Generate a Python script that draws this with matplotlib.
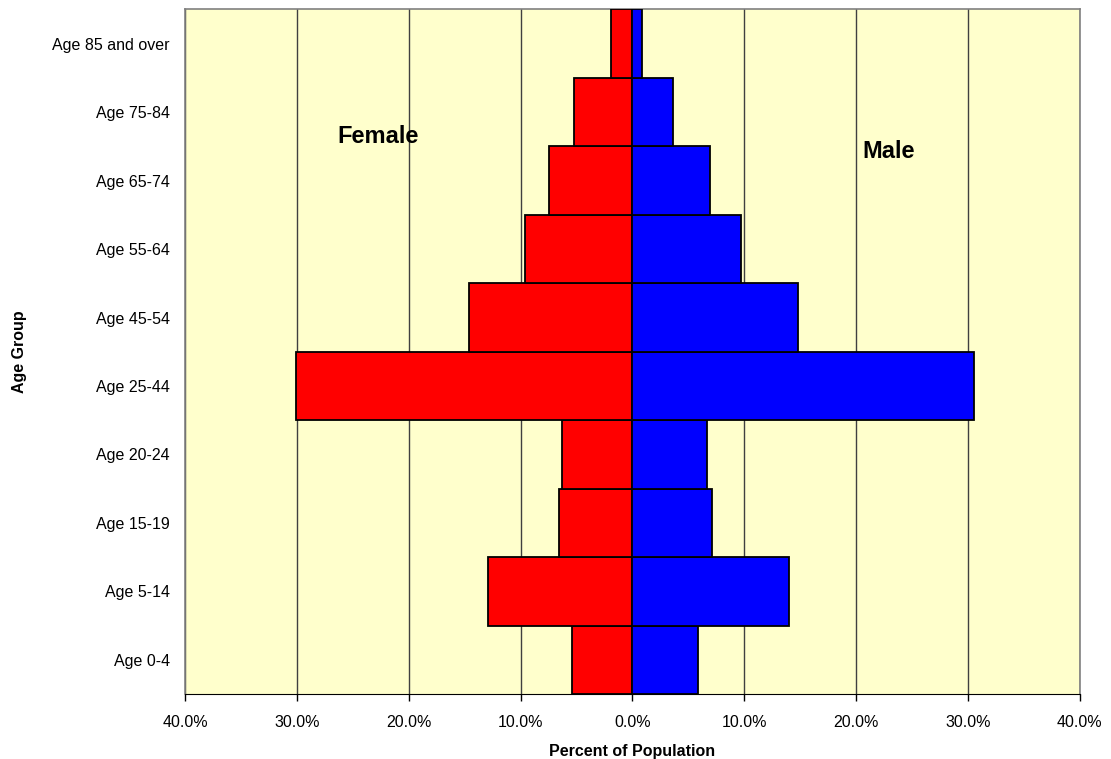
import numpy as np
import matplotlib.pyplot as plt
from matplotlib.ticker import FuncFormatter

plt.rcParams['font.family'] = ['Liberation Sans', 'DejaVu Sans']

age_groups = ['Age 0-4', 'Age 5-14', 'Age 15-19', 'Age 20-24', 'Age 25-44',
              'Age 45-54', 'Age 55-64', 'Age 65-74', 'Age 75-84', 'Age 85 and over']
female = [5.4, 12.9, 6.6, 6.3, 30.1, 14.6, 9.6, 7.5, 5.2, 1.9]
male = [5.9, 14.0, 7.1, 6.7, 30.5, 14.8, 9.7, 6.9, 3.6, 0.85]
x_ticks = [-40, -30, -20, -10, 0, 10, 20, 30, 40]

fig = plt.figure(figsize=(11.11, 7.59), dpi=100)
ax = fig.add_axes([0.1665, 0.0856, 0.8055, 0.9019])
ax.set_facecolor('#ffffcc')

y = np.arange(len(age_groups))
ax.barh(y, [-v for v in female], height=1.0, color='#ff0000', edgecolor='black', linewidth=1.3, zorder=3)
ax.barh(y, male, height=1.0, color='#0000ff', edgecolor='black', linewidth=1.3, zorder=3)

ax.set_xlim(-40, 40)
ax.set_ylim(-0.5, len(age_groups) - 0.5)
ax.set_xticks(x_ticks)
ax.xaxis.set_major_formatter(FuncFormatter(lambda v, p: f'{abs(v):.1f}%'))
ax.set_yticks(y)
ax.set_yticklabels(age_groups)
ax.tick_params(axis='y', length=0, pad=11, labelsize=11.5)
ax.tick_params(axis='x', direction='out', length=5, width=1, labelsize=11.5, pad=10)
ax.grid(axis='x', color='#404040', linewidth=1, zorder=1)

for s in ['left', 'top', 'right']:
    ax.spines[s].set_color('#808080')
    ax.spines[s].set_linewidth(1.2)
ax.spines['bottom'].set_color('black')

ax.set_xlabel('Percent of Population', fontsize=11.5, fontweight='bold', labelpad=10)
ax.set_ylabel('Age Group', fontsize=11.5, fontweight='bold')
ax.yaxis.set_label_coords(-0.176, 0.5)

ax.text(-22.7, 7.64, 'Female', fontsize=17, fontweight='bold', ha='center', va='center', zorder=4)
ax.text(22.9, 7.42, 'Male', fontsize=17, fontweight='bold', ha='center', va='center', zorder=4)

plt.savefig('out.png', dpi=100)
